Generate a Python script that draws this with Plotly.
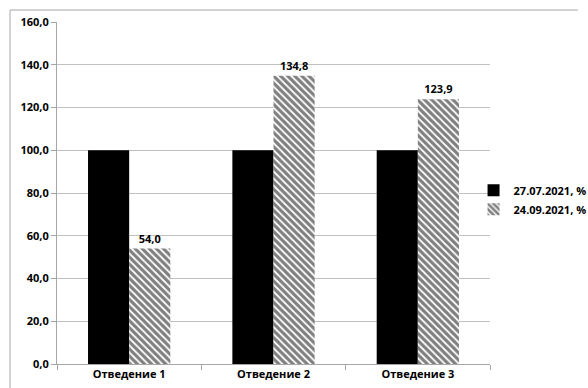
import plotly.graph_objects as go

# Данные
categories = ["Отведение 1", "Отведение 2", "Отведение 3"]
series_names = ["27.07.2021, %", "24.09.2021, %"]
values_first = [100.0, 100.0, 100.0]
values_second = [54.0, 134.8, 123.9]
y_ticks = [0, 20, 40, 60, 80, 100, 120, 140, 160]

font_family = "Open Sans, Lato, DejaVu Sans, sans-serif"

fig = go.Figure()
fig.add_trace(go.Bar(
    x=categories, y=values_first, name=series_names[0],
    marker=dict(color="black", line=dict(width=0)),
))
fig.add_trace(go.Bar(
    x=categories, y=values_second, name=series_names[1],
    marker=dict(color="white", line=dict(width=0),
                pattern=dict(shape="\\", fgcolor="black", bgcolor="white",
                             size=5, solidity=0.65, fillmode="overlay")),
    text=[f"{v:.1f}".replace(".", ",") for v in values_second],
    textposition="outside", cliponaxis=False,
    textfont=dict(family=font_family, size=11, color="black", weight="bold"),
))

fig.update_layout(
    width=588, height=388,
    margin=dict(l=57, r=98, t=22, b=24, autoexpand=False),
    paper_bgcolor="white", plot_bgcolor="white",
    barmode="group", bargap=0.43, bargroupgap=0,
    separators=", ",
    font=dict(family=font_family, size=11, color="black"),
    showlegend=True,
    legend=dict(x=0.962, y=0.48, xanchor="left", yanchor="middle",
                font=dict(family=font_family, size=11, color="black", weight="bold"),
                itemwidth=30, tracegroupgap=0, bgcolor="rgba(0,0,0,0)"),
    xaxis=dict(
        type="category", showline=True, linecolor="#a6a6a6", linewidth=1,
        ticks="outside", tickson="boundaries", ticklen=5, tickcolor="#a6a6a6",
        tickfont=dict(family=font_family, size=11, color="black", weight="bold"),
        showgrid=False,
    ),
    yaxis=dict(
        range=[0, 160], tickvals=y_ticks, tickformat=".1f",
        showline=True, linecolor="#a6a6a6", linewidth=1,
        ticks="outside", ticklen=5, tickcolor="#a6a6a6",
        showgrid=True, gridcolor="#c0c0c0", gridwidth=1,
        zeroline=False,
        tickfont=dict(family=font_family, size=11, color="black", weight="bold"),
    ),
)

# Рамка области диаграммы (левая и верхняя стороны)
fig.add_shape(type="line", xref="paper", yref="paper",
              x0=-0.1085, x1=-0.1085, y0=-0.2, y1=1.035,
              line=dict(color="#a6a6a6", width=1))
fig.add_shape(type="line", xref="paper", yref="paper",
              x0=-0.1085, x1=1.203, y0=1.035, y1=1.035,
              line=dict(color="#a6a6a6", width=1))

fig.write_html("out.html")
